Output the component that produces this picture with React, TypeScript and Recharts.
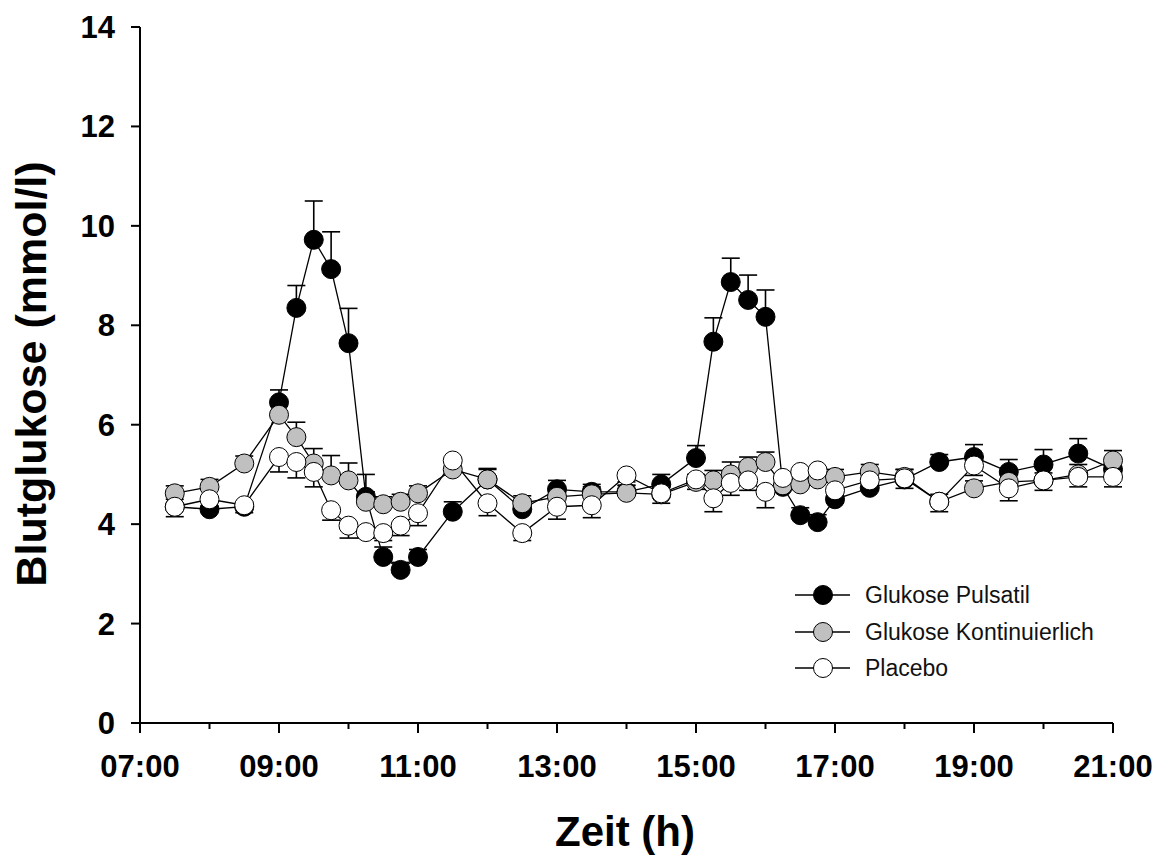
import { ComposedChart, Line, XAxis, YAxis, ErrorBar, Legend, Label } from "recharts"

const times = [
  7.5, 8, 8.5, 9, 9.25, 9.5, 9.75, 10, 10.25, 10.5, 10.75, 11, 11.5, 12, 12.5, 13, 13.5, 14, 14.5,
  15, 15.25, 15.5, 15.75, 16, 16.25, 16.5, 16.75, 17, 17.5, 18, 18.5, 19, 19.5, 20, 20.5, 21,
]

// Glukose Pulsatil (mean, SEM drawn upward)
const pulsatil = [
  4.35, 4.3, 4.35, 6.45, 8.35, 9.72, 9.13, 7.64, 4.55, 3.34, 3.08, 3.34, 4.25, 4.9, 4.3, 4.7, 4.65, 4.65, 4.8,
  5.33, 7.67, 8.87, 8.51, 8.17, 4.75, 4.18, 4.04, 4.5, 4.73, 4.9, 5.25, 5.35, 5.05, 5.2, 5.42, 5.1,
]
const pulsatilErr = [
  0.15, 0.15, 0.1, 0.25, 0.45, 0.78, 0.75, 0.7, 0.45, 0.2, 0.15, 0.15, 0.2, 0.22, 0.2, 0.18, 0.15, 0.2, 0.2,
  0.25, 0.48, 0.48, 0.5, 0.54, 0.2, 0.15, 0.15, 0.2, 0.2, 0.2, 0.15, 0.25, 0.25, 0.3, 0.3, 0.2,
]

// Glukose Kontinuierlich (SEM drawn upward)
const kontinuierlich = [
  4.62, 4.75, 5.22, 6.2, 5.75, 5.22, 4.98, 4.88, 4.45, 4.4, 4.45, 4.62, 5.1, 4.9, 4.42, 4.55, 4.6, 4.63, 4.6,
  4.85, 4.88, 5.0, 5.15, 5.25, 4.78, 4.8, 4.9, 4.95, 5.05, 4.95, 4.45, 4.72, 4.85, 4.88, 5.0, 5.28,
]
const kontinuierlichErr = [
  0.15, 0.15, 0.15, 0.2, 0.3, 0.3, 0.4, 0.35, 0.2, 0.15, 0.15, 0.15, 0.15, 0.2, 0.15, 0.15, 0.15, 0.15, 0.15,
  0.15, 0.2, 0.25, 0.2, 0.2, 0.15, 0.15, 0.15, 0.15, 0.15, 0.15, 0.15, 0.15, 0.15, 0.15, 0.2, 0.2,
]

// Placebo (SEM drawn downward)
const placebo = [
  4.35, 4.5, 4.38, 5.35, 5.25, 5.05, 4.28, 3.97, 3.84, 3.82, 3.97, 4.22, 5.28, 4.42, 3.82, 4.35, 4.38, 4.98, 4.62,
  4.9, 4.52, 4.83, 4.88, 4.65, 4.93, 5.05, 5.08, 4.68, 4.88, 4.92, 4.45, 5.18, 4.72, 4.88, 4.95, 4.95,
]
const placeboErr = [
  0.2, 0.15, 0.15, 0.3, 0.32, 0.3, 0.2, 0.25, 0.12, 0.15, 0.2, 0.25, 0.2, 0.25, 0.15, 0.25, 0.25, 0.2, 0.2,
  0.2, 0.27, 0.25, 0.2, 0.32, 0.2, 0.2, 0.2, 0.25, 0.2, 0.2, 0.2, 0.2, 0.25, 0.2, 0.2, 0.2,
]

const xTicks = [7, 8, 9, 10, 11, 12, 13, 14, 15, 16, 17, 18, 19, 20, 21]
const yTicks = [0, 2, 4, 6, 8, 10, 12, 14]

const seriesNames = ["Glukose Pulsatil", "Glukose Kontinuierlich", "Placebo"]
const seriesFills = ["#000000", "#c0c0c0", "#ffffff"]

const FONT = '"Liberation Sans", Arial, sans-serif'

const data = times.map((t, i) => ({
  t,
  p: pulsatil[i],
  pErr: [0, pulsatilErr[i]],
  k: kontinuierlich[i],
  kErr: [0, kontinuierlichErr[i]],
  pl: placebo[i],
  plErr: [placeboErr[i], 0],
}))

const fmtHour = (h: number) => `${String(h).padStart(2, "0")}:00`

function XTick(props: any) {
  const { x, y, payload } = props
  const major = (payload.value - 7) % 2 === 0
  return (
    <g>
      <line x1={x} y1={y} x2={x} y2={y + (major ? 10 : 6)} stroke="#000" strokeWidth={2} />
      {major && (
        <text x={x} y={y + 54} textAnchor="middle" fontFamily={FONT} fontWeight="bold" fontSize={31} fill="#000">
          {fmtHour(payload.value)}
        </text>
      )}
    </g>
  )
}

function LegendBox() {
  return (
    <div style={{ fontFamily: FONT, fontSize: 23, color: "#111" }}>
      {seriesNames.map((name, i) => (
        <div key={name} style={{ display: "flex", alignItems: "center", height: 36.5 }}>
          <svg width={60} height={36}>
            <line x1={2} y1={18} x2={57} y2={18} stroke="#000" strokeWidth={1.5} />
            <circle cx={30} cy={18} r={9.5} fill={seriesFills[i]} stroke="#000" strokeWidth={1} />
          </svg>
          <span style={{ marginLeft: 12, lineHeight: "36px" }}>{name}</span>
        </div>
      ))}
    </div>
  )
}

export default function App() {
  const keys = ["p", "k", "pl"]
  const errKeys = ["pErr", "kErr", "plErr"]
  return (
    <div style={{ position: "absolute", left: 0, top: 0 }}>
      <ComposedChart width={1172} height={859} data={data} margin={{ top: 27, right: 59, left: 0, bottom: 0 }}>
        <XAxis
          dataKey="t"
          type="number"
          domain={[7, 21]}
          ticks={xTicks}
          interval={0}
          height={136}
          tickSize={0}
          tickMargin={0}
          tickLine={false}
          axisLine={{ stroke: "#000", strokeWidth: 2 }}
          tick={<XTick />}
        >
          <Label
            content={() => (
              <text x={625} y={846} textAnchor="middle" fontFamily={FONT} fontWeight="bold" fontSize={42} fill="#000">
                Zeit (h)
              </text>
            )}
          />
        </XAxis>
        <YAxis
          type="number"
          domain={[0, 14]}
          ticks={yTicks}
          interval={0}
          width={140}
          tickSize={9}
          tickMargin={16}
          tickLine={{ stroke: "#000", strokeWidth: 2 }}
          axisLine={{ stroke: "#000", strokeWidth: 2 }}
          tick={{ fontFamily: FONT, fontWeight: "bold", fontSize: 31, fill: "#000" }}
        >
          <Label
            content={() => (
              <text
                transform="translate(46,374) rotate(-90)"
                textAnchor="middle"
                fontFamily={FONT}
                fontWeight="bold"
                fontSize={43}
                fill="#000"
              >
                Blutglukose (mmol/l)
              </text>
            )}
          />
        </YAxis>
        <Legend
          layout="vertical"
          align="center"
          verticalAlign="middle"
          wrapperStyle={{ position: "absolute", left: 793, top: 577, width: 360 }}
          content={() => <LegendBox />}
        />
        {keys.map((k, i) => (
          <Line
            key={k}
            dataKey={k}
            name={seriesNames[i]}
            type="linear"
            stroke="#000"
            strokeWidth={1.3}
            dot={{ r: 9.5, fill: seriesFills[i], stroke: "#000", strokeWidth: 1 }}
            activeDot={false}
            isAnimationActive={false}
          >
            <ErrorBar dataKey={errKeys[i]} direction="y" width={9} stroke="#000" strokeWidth={1.6} isAnimationActive={false} />
          </Line>
        ))}
      </ComposedChart>
    </div>
  )
}
